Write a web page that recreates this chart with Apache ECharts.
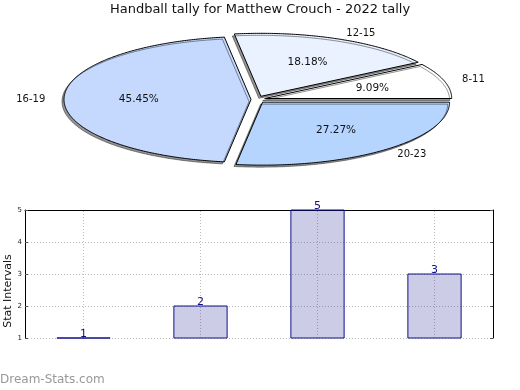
<!DOCTYPE html>
<html><head><meta charset="utf-8">
<script src="https://cdn.jsdelivr.net/npm/echarts@6/dist/echarts.min.js"></script>
<style>html,body{margin:0;padding:0;background:#fff}#c{width:520px;height:390px}</style>
</head><body><div id="c"></div>
<script>
const titleText = 'Handball tally for Matthew Crouch - 2022 tally';
const categories = ['8-11', '12-15', '16-19', '20-23'];
const values = [1, 2, 5, 3];
const yTicks = [1, 2, 3, 4, 5];
const yAxisName = 'Stat Intervals';
const watermark = 'Dream-Stats.com';
const sliceColors = ['#ffffff', '#eaf1ff', '#c5d9ff', '#b5d5ff'];

const FONT = 'DejaVu Sans';
const PIE = { cx: 258, cy: 99.5, rx: 187, ry: 63, explode: 7, explodeY: 0.5 };
const total = values.reduce((a, b) => a + b, 0);

const chart = echarts.init(document.getElementById('c'), null, { renderer: 'canvas' });

function pieItem(params, api) {
  const i = params.dataIndex;
  const v = api.value(0);
  let before = 0;
  for (let k = 0; k < i; k++) before += values[k];
  const a0 = before / total * 2 * Math.PI;
  const a1 = (before + v) / total * 2 * Math.PI;
  const am = (a0 + a1) / 2;
  const cx = PIE.cx + PIE.explode * Math.cos(am);
  const cy = PIE.cy - PIE.explode * PIE.explodeY * Math.sin(am);
  const pts = [[cx, cy]];
  const n = Math.max(4, Math.ceil((a1 - a0) / 0.01));
  for (let s = 0; s <= n; s++) {
    const a = a0 + (a1 - a0) * s / n;
    pts.push([cx + PIE.rx * Math.cos(a), cy - PIE.ry * Math.sin(a)]);
  }
  const c = Math.cos(am), sn = Math.sin(am);
  const pct = (v / total * 100).toFixed(2) + '%';
  const lx = cx + PIE.rx * 1.1 * c, ly = cy - PIE.ry * 1.1 * sn;
  return {
    type: 'group',
    children: [
      {
        type: 'polygon',
        shape: { points: pts },
        style: {
          fill: sliceColors[i], stroke: '#000', lineWidth: 1,
          shadowColor: 'rgba(0,0,0,0.42)', shadowBlur: 0.5, shadowOffsetX: -2, shadowOffsetY: 2
        }
      },
      {
        type: 'text',
        x: cx + PIE.rx * 0.6 * c, y: cy - PIE.ry * 0.6 * sn,
        style: { text: pct, font: '10.5px "' + FONT + '"', fill: '#111', align: 'center', verticalAlign: 'middle' }
      },
      {
        type: 'text',
        x: lx, y: ly,
        style: {
          text: categories[i], font: '10px "' + FONT + '"', fill: '#111',
          align: c >= 0 ? 'left' : 'right', verticalAlign: 'middle'
        }
      }
    ]
  };
}

function barItem(params, api) {
  const x = api.value(0), v = api.value(1);
  const top = api.coord([x, v]);
  const base = api.coord([x, yTicks[0]]);
  const w = api.size([1, 0])[0] * 0.455;
  return {
    type: 'group',
    children: [
      {
        type: 'rect',
        shape: { x: top[0] - w / 2, y: top[1], width: w, height: base[1] - top[1] },
        style: { fill: 'rgba(0,0,128,0.2)', stroke: '#10108a', lineWidth: 1 }
      },
      {
        type: 'text',
        x: top[0], y: top[1] + 2,
        style: { text: String(v), font: '11px "' + FONT + '"', fill: '#10108a', align: 'center', verticalAlign: 'bottom' }
      }
    ]
  };
}

const gridLine = { type: [1, 2], color: '#bdbdbd', width: 1 };

chart.setOption({
  animation: false,
  backgroundColor: '#fff',
  textStyle: { fontFamily: FONT },
  grid: { left: 25, right: 27, top: 210, bottom: 52, containLabel: false },
  xAxis: [{
    type: 'category', data: categories, position: 'top',
    axisLine: { show: true, lineStyle: { color: '#000', width: 1 } },
    axisTick: { show: false }, axisLabel: { show: false }, splitLine: { show: false }
  }],
  yAxis: [{
    type: 'value', min: yTicks[0], max: yTicks[yTicks.length - 1], interval: 1, position: 'left',
    axisLine: { show: true, lineStyle: { color: '#000', width: 1 } },
    axisTick: { show: true, inside: true, length: 3, lineStyle: { color: '#555' } },
    axisLabel: { fontSize: 7, color: '#222', margin: 3, fontFamily: FONT },
    splitLine: { show: true, lineStyle: gridLine }
  }, {
    type: 'value', min: yTicks[0], max: yTicks[yTicks.length - 1], interval: 1, position: 'right',
    axisLine: { show: true, lineStyle: { color: '#000', width: 1 } },
    axisTick: { show: true, inside: true, length: 3, lineStyle: { color: '#555' } },
    axisLabel: { show: false }, splitLine: { show: false }
  }],
  series: [
    {
      type: 'custom', coordinateSystem: 'none',
      data: values.map((v, i) => [v, i]),
      renderItem: pieItem, silent: true
    },
    {
      type: 'custom', coordinateSystem: 'cartesian2d', xAxisIndex: 0, yAxisIndex: 0,
      data: values.map((v, i) => [i, v]),
      encode: { x: 0, y: 1 },
      renderItem: barItem, silent: true, clip: false, z: 1,
      markLine: {
        silent: true, symbol: ['none', 'none'], label: { show: false },
        lineStyle: gridLine, animation: false, z: 0,
        data: categories.map(c => ({ xAxis: c }))
      }
    }
  ],
  graphic: [
    { type: 'text', x: 260, y: 10, style: { text: titleText, font: '13px "' + FONT + '"', fill: '#111', align: 'center', verticalAlign: 'middle' } },
    { type: 'text', x: 8, y: 291, rotation: Math.PI / 2, style: { text: yAxisName, font: '11px "' + FONT + '"', fill: '#111', align: 'center', verticalAlign: 'middle' } },
    { type: 'text', x: 0, y: 380, style: { text: watermark, font: '12px "' + FONT + '"', fill: '#999', align: 'left', verticalAlign: 'middle' } }
  ]
});
</script>
</body></html>
